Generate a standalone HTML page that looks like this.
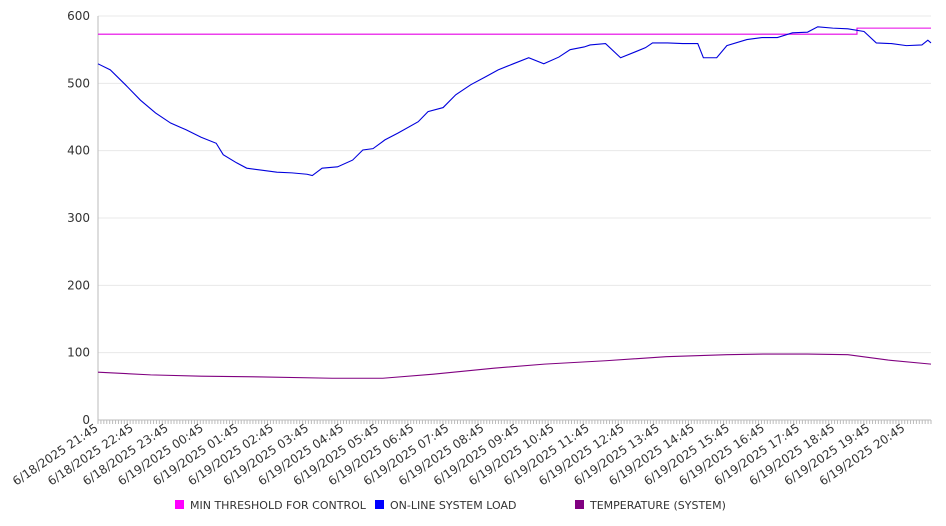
<!DOCTYPE html>
<html><head><meta charset="utf-8"><style>
body{margin:0;background:#fff;}
svg{display:block;font-family:"DejaVu Sans","Liberation Sans",sans-serif;}
</style></head><body>
<svg id="c" width="946" height="526"></svg>
<script>
const yTicks=[0,100,200,300,400,500,600];
const xLabels=["6/18/2025 21:45","6/18/2025 22:45","6/18/2025 23:45","6/19/2025 00:45","6/19/2025 01:45","6/19/2025 02:45","6/19/2025 03:45","6/19/2025 04:45","6/19/2025 05:45","6/19/2025 06:45","6/19/2025 07:45","6/19/2025 08:45","6/19/2025 09:45","6/19/2025 10:45","6/19/2025 11:45","6/19/2025 12:45","6/19/2025 13:45","6/19/2025 14:45","6/19/2025 15:45","6/19/2025 16:45","6/19/2025 17:45","6/19/2025 18:45","6/19/2025 19:45","6/19/2025 20:45"];
// hours since 21:45
const loadHours=[0,0.35,0.78,1.21,1.64,2.07,2.51,2.94,3.37,3.57,3.95,4.24,4.67,5.1,5.53,5.96,6.11,6.39,6.83,7.26,7.55,7.84,8.18,8.55,9.13,9.41,9.84,10.2,10.63,11.06,11.41,11.84,12.28,12.71,13.14,13.46,13.86,14.03,14.47,14.9,15.33,15.61,15.81,16.24,16.67,17.1,17.26,17.64,17.93,18.5,18.93,19.37,19.8,20.23,20.52,20.95,21.38,21.84,22.19,22.62,23.05,23.49,23.66];
const loadVals=[529,520,498,475,456,441,431,420,411,394,382,374,371,368,367,365,363,374,376,386,401,403,416,426,443,458,464,483,498,510,520,529,538,529,539,550,554,557,559,538,547,553,560,560,559,559,538,538,556,565,568,568,575,576,584,582,581,577,560,559,556,557,564];
const loadEnd=560;
const threshHours=[0,21.64,21.64,23.75];
const threshVals=[573,573,582,582];
const tempHours=[0,1.5,2.94,4.67,6.68,8.12,9.56,11.29,12.73,14.47,16.2,17.93,19.08,20.23,21.38,22.53,23.75];
const tempVals=[71,67,65,64,62,62,68,77,83,88,94,97,98,98,97,89,83];
const SPAN=23.75;

const svg=document.getElementById('c');const NS='http://www.w3.org/2000/svg';
const L=98,R=931,T=16,B=420;
const x=h=>L+(R-L)*h/SPAN, y=v=>B-(B-T)*v/600;
function mk(t,a,p){const e=document.createElementNS(NS,t);for(const k in a)e.setAttribute(k,a[k]);(p||svg).appendChild(e);return e;}
yTicks.forEach(v=>{
 const g=mk('line',{x1:L,x2:R,y1:y(v),y2:y(v),stroke:v?'#e8e8e8':'#bbb','stroke-width':1});
 
 
 const t=mk('text',{x:90,y:y(v)+4,'text-anchor':'end','font-size':12,fill:'#333'});t.textContent=v;
 
 
});
const ax=mk('line',{x1:L,x2:L,y1:T,y2:B,stroke:'#bbb'});


for(let m=0;m<=SPAN*60;m+=5){const tk=mk('line',{x1:x(m/60),x2:x(m/60),y1:B,y2:B+4,stroke:'#bbb'});
 
 }
xLabels.forEach((s,i)=>{const px=x(i)+1;const t=mk('text',{x:px,y:B+10,'text-anchor':'end','font-size':12,fill:'#333',transform:`rotate(-34 ${px} ${B+10})`});t.textContent=s;
 
 });
function line(hs,vs,col,name){const p=mk('polyline',{points:hs.map((h,i)=>x(h)+','+y(vs[i])).join(' '),fill:'none',stroke:col,'stroke-width':1.1});
 
 }
line(threshHours,threshVals,'#e600e6','threshold-line');
line(loadHours.concat([SPAN]),loadVals.concat([loadEnd]),'#0000dd','system-load-line');
line(tempHours,tempVals,'#800080','temperature-line');
[['MIN THRESHOLD FOR CONTROL','#ff00ff',175],['ON-LINE SYSTEM LOAD','#0000ff',375],['TEMPERATURE (SYSTEM)','#800080',575]].forEach(([s,c,lx])=>{
 const r=mk('rect',{x:lx,y:500,width:9,height:9,fill:c});
 
 
 const t=mk('text',{x:lx+15,y:509,'font-size':11,fill:'#333'});t.textContent=s;
 
 
});
</script>
</body></html>
